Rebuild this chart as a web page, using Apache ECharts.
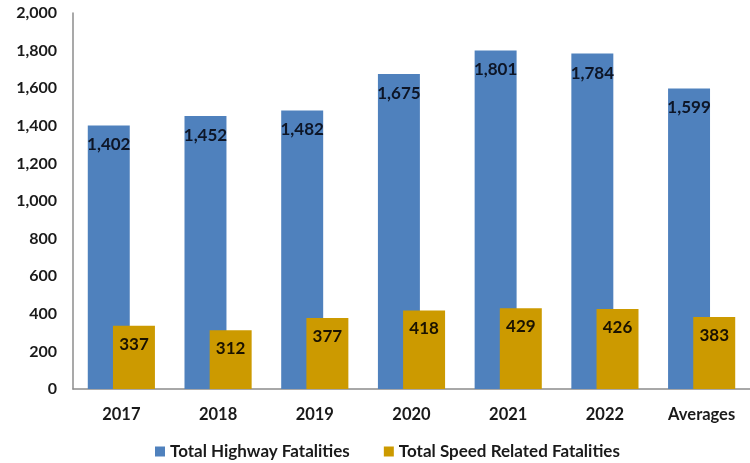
<!DOCTYPE html>
<html><head><meta charset="utf-8">
<script src="https://cdn.jsdelivr.net/npm/echarts@6/dist/echarts.min.js"></script>
<style>html,body{margin:0;padding:0;background:#fff}#c{width:750px;height:463px}</style>
</head><body><div id="c"></div>
<script>
const categories = ['2017','2018','2019','2020','2021','2022','Averages'];
const highway = [1402,1452,1482,1675,1801,1784,1599];
const speed = [337,312,377,418,429,426,383];
const seriesNames = ['Total Highway Fatalities','Total Speed Related Fatalities'];
const FONT = 'Lato';
const chart = echarts.init(document.getElementById('c'));
const fmt = v => v.toLocaleString('en-US');
chart.setOption({
  animation:false,
  textStyle:{fontFamily:FONT},
  grid:{left:73,right:0,top:13,bottom:74,containLabel:false},
  legend:{
    top:438,left:150,itemWidth:10,itemHeight:10,itemGap:34,icon:'rect',
    textStyle:{fontFamily:FONT,fontWeight:'bold',fontSize:17,color:'#1a1a1a'},
    data:seriesNames
  },
  xAxis:{type:'category',data:categories,
    axisLine:{lineStyle:{color:'#8c8c8c',width:1.5}},axisTick:{show:false},
    axisLabel:{fontFamily:FONT,fontWeight:'bold',fontSize:16.5,color:'#1a1a1a',margin:17}},
  yAxis:{type:'value',min:0,max:2000,interval:200,
    axisLine:{show:true,lineStyle:{color:'#8c8c8c',width:1.5}},axisTick:{show:false},
    splitLine:{show:false},
    axisLabel:{fontFamily:FONT,fontWeight:'bold',fontSize:16,color:'#1a1a1a',margin:16,formatter:v=>fmt(v)}},
  series:[
    {name:seriesNames[0],type:'bar',data:highway,barWidth:'43.4%',barGap:'-40%',
     itemStyle:{color:'#4F81BD'},
     label:{show:true,position:'insideTop',distance:11,fontFamily:FONT,fontWeight:'bold',fontSize:17,color:'#0d1526',formatter:p=>fmt(p.value)}},
    {name:seriesNames[1],type:'bar',data:speed,barWidth:'43.4%',
     itemStyle:{color:'#CC9A00'},
     label:{show:true,position:'insideTop',distance:10,fontFamily:FONT,fontWeight:'bold',fontSize:17,color:'#1a1200',formatter:p=>fmt(p.value)}}
  ]
});
</script></body></html>
